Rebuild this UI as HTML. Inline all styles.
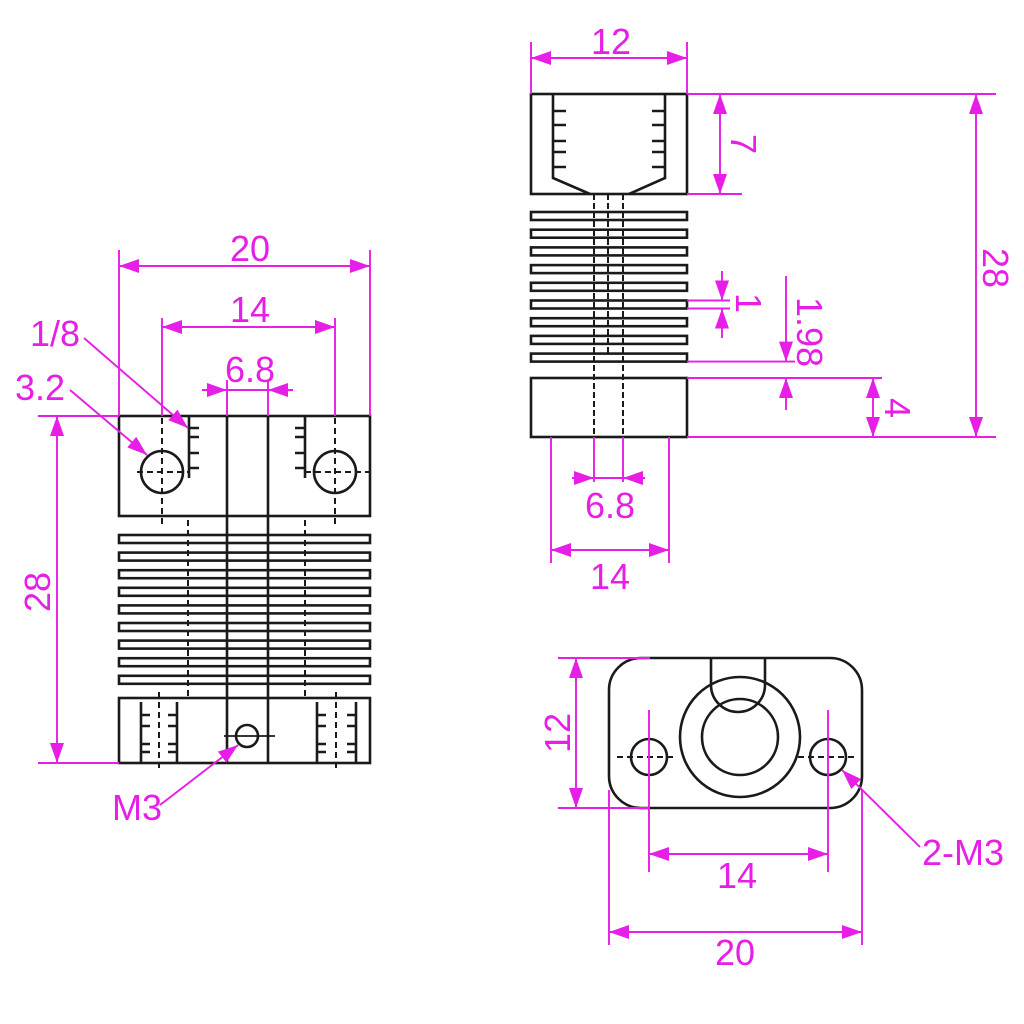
<!DOCTYPE html>
<html><head><meta charset="utf-8"><style>
html,body{margin:0;padding:0;background:#fff;}
svg{display:block;}
text{font-family:"Liberation Sans","DejaVu Sans",sans-serif;font-size:36px;fill:#e61ee6;}
</style></head><body>
<svg width="1024" height="1024" viewBox="0 0 1024 1024" xmlns="http://www.w3.org/2000/svg">
<defs>
<marker id="a" viewBox="0 0 20 14" refX="20" refY="7" markerWidth="20" markerHeight="14" markerUnits="userSpaceOnUse" orient="auto"><path d="M0,0 L20,7 L0,14 Z" fill="#e61ee6"/></marker>
</defs>
<g fill="none" stroke="#1a1a1a" stroke-width="2.6">
<rect x="119" y="416" width="251" height="100"/>
<line x1="227" y1="416" x2="227" y2="763"/>
<line x1="268" y1="416" x2="268" y2="763"/>
<circle cx="162" cy="472" r="21"/>
<circle cx="335" cy="472" r="21"/>
<g stroke-dasharray="6,4" stroke-width="2">
<line x1="162" y1="418" x2="162" y2="528"/><line x1="137" y1="472" x2="189" y2="472"/>
<line x1="335" y1="418" x2="335" y2="528"/><line x1="305" y1="472" x2="370" y2="472"/>
<line x1="188" y1="520" x2="188" y2="697"/><line x1="305" y1="520" x2="305" y2="697"/>
<line x1="159" y1="692" x2="159" y2="770"/><line x1="336" y1="692" x2="336" y2="770"/>
</g>
<line x1="189" y1="417" x2="189" y2="478"/>
<path d="M189 428h10M189 437h10M189 453h10M189 468h10"/>
<line x1="305" y1="417" x2="305" y2="478"/>
<path d="M305 428h-10M305 437h-10M305 453h-10M305 468h-10"/>
<rect x="119" y="535" width="251" height="8"/>
<rect x="119" y="552.6" width="251" height="8"/>
<rect x="119" y="570.2" width="251" height="8"/>
<rect x="119" y="587.8" width="251" height="8"/>
<rect x="119" y="605.4" width="251" height="8"/>
<rect x="119" y="623" width="251" height="8"/>
<rect x="119" y="640.6" width="251" height="8"/>
<rect x="119" y="658.2" width="251" height="8"/>
<rect x="119" y="675.8" width="251" height="8"/>
<rect x="119" y="698" width="251" height="65"/>
<line x1="141" y1="702" x2="141" y2="763"/><line x1="177" y1="702" x2="177" y2="763"/>
<path d="M141 715h9M141 726h9M141 744h9M141 752h9M177 715h-9M177 726h-9M177 744h-9M177 752h-9"/>
<line x1="317" y1="702" x2="317" y2="763"/><line x1="356" y1="702" x2="356" y2="763"/>
<path d="M317 715h9M317 726h9M317 744h9M317 752h9M356 715h-9M356 726h-9M356 744h-9M356 752h-9"/>
<circle cx="247" cy="736" r="11"/>
<line x1="224" y1="736" x2="275" y2="736" stroke-width="1.8"/>

<rect x="531" y="94" width="156" height="100"/>
<path d="M553 94 V178 L590 194 M665 94 V178 L629 194"/>
<path d="M553 111h13M553 125h13M553 141h13M553 152h13M553 167h13M665 111h-13M665 125h-13M665 141h-13M665 152h-13M665 167h-13"/>
<rect x="531" y="212" width="156" height="8"/>
<rect x="531" y="229.7" width="156" height="8"/>
<rect x="531" y="247.4" width="156" height="8"/>
<rect x="531" y="265.1" width="156" height="8"/>
<rect x="531" y="282.8" width="156" height="8"/>
<rect x="531" y="300.5" width="156" height="8"/>
<rect x="531" y="318.2" width="156" height="8"/>
<rect x="531" y="335.9" width="156" height="8"/>
<rect x="531" y="353.6" width="156" height="8"/>
<rect x="531" y="378" width="156" height="59"/>
<g stroke-dasharray="6,3" stroke-width="2">
<line x1="594" y1="194" x2="594" y2="437"/>
<line x1="608" y1="194" x2="608" y2="355"/>
<line x1="623" y1="194" x2="623" y2="437"/>
</g>

<rect x="609" y="658" width="253" height="150" rx="32"/>
<path d="M711 658 V685 A27 27 0 0 0 765 685 V658"/>
<circle cx="740" cy="737" r="60"/>
<circle cx="740" cy="737" r="38"/>
<circle cx="649" cy="757" r="18"/>
<circle cx="828" cy="757" r="18"/>
<g stroke-dasharray="6,4" stroke-width="2">
<line x1="617" y1="757" x2="675" y2="757"/>
<line x1="798" y1="757" x2="857" y2="757"/>
</g>
</g>

<g stroke="#e61ee6" stroke-width="1.9" fill="none">
<line x1="119" y1="250" x2="119" y2="416"/><line x1="370" y1="250" x2="370" y2="416"/>
<line x1="245" y1="266" x2="119" y2="266" marker-end="url(#a)"/><line x1="245" y1="266" x2="370" y2="266" marker-end="url(#a)"/>
<line x1="162" y1="318" x2="162" y2="416"/><line x1="335" y1="318" x2="335" y2="416"/>
<line x1="248" y1="327" x2="162" y2="327" marker-end="url(#a)"/><line x1="248" y1="327" x2="335" y2="327" marker-end="url(#a)"/>
<line x1="227" y1="380" x2="227" y2="416"/><line x1="268" y1="380" x2="268" y2="416"/>
<line x1="202" y1="390" x2="227" y2="390" marker-end="url(#a)"/><line x1="293" y1="390" x2="268" y2="390" marker-end="url(#a)"/>
<line x1="227" y1="390" x2="268" y2="390"/>
<line x1="38" y1="416" x2="119" y2="416"/><line x1="38" y1="763" x2="119" y2="763"/>
<line x1="57" y1="590" x2="57" y2="416" marker-end="url(#a)"/><line x1="57" y1="590" x2="57" y2="763" marker-end="url(#a)"/>
<line x1="84" y1="338" x2="188" y2="428" marker-end="url(#a)"/>
<line x1="70" y1="390" x2="147" y2="455" marker-end="url(#a)"/>
<line x1="160" y1="805" x2="238" y2="745" marker-end="url(#a)"/>

<line x1="531" y1="42" x2="531" y2="94"/><line x1="687" y1="42" x2="687" y2="94"/>
<line x1="609" y1="58" x2="531" y2="58" marker-end="url(#a)"/><line x1="609" y1="58" x2="687" y2="58" marker-end="url(#a)"/>
<line x1="687" y1="94" x2="996" y2="94"/><line x1="687" y1="194" x2="742" y2="194"/>
<line x1="720" y1="144" x2="720" y2="94" marker-end="url(#a)"/><line x1="720" y1="144" x2="720" y2="194" marker-end="url(#a)"/>
<line x1="687" y1="437" x2="996" y2="437"/>
<line x1="976" y1="265" x2="976" y2="94" marker-end="url(#a)"/><line x1="976" y1="265" x2="976" y2="437" marker-end="url(#a)"/>
<line x1="687" y1="300.5" x2="730" y2="300.5"/><line x1="687" y1="308.5" x2="730" y2="308.5"/>
<line x1="722" y1="271" x2="722" y2="300.5" marker-end="url(#a)"/><line x1="722" y1="338" x2="722" y2="308.5" marker-end="url(#a)"/>
<line x1="687" y1="361.6" x2="795" y2="361.6"/><line x1="687" y1="378" x2="882" y2="378"/>
<line x1="786" y1="276" x2="786" y2="361.6" marker-end="url(#a)"/><line x1="786" y1="410" x2="786" y2="378" marker-end="url(#a)"/>
<line x1="873" y1="407" x2="873" y2="378" marker-end="url(#a)"/><line x1="873" y1="407" x2="873" y2="437" marker-end="url(#a)"/>
<line x1="594" y1="437" x2="594" y2="482"/><line x1="623" y1="437" x2="623" y2="482"/>
<line x1="572" y1="478" x2="594" y2="478" marker-end="url(#a)"/><line x1="645" y1="478" x2="623" y2="478" marker-end="url(#a)"/>
<line x1="594" y1="478" x2="623" y2="478"/>
<line x1="551" y1="437" x2="551" y2="563"/><line x1="669" y1="437" x2="669" y2="563"/>
<line x1="610" y1="550" x2="551" y2="550" marker-end="url(#a)"/><line x1="610" y1="550" x2="669" y2="550" marker-end="url(#a)"/>

<line x1="558" y1="658" x2="650" y2="658"/><line x1="558" y1="808" x2="650" y2="808"/>
<line x1="576" y1="733" x2="576" y2="658" marker-end="url(#a)"/><line x1="576" y1="733" x2="576" y2="808" marker-end="url(#a)"/>
<line x1="649" y1="710" x2="649" y2="872"/><line x1="828" y1="710" x2="828" y2="872"/>
<line x1="738" y1="854" x2="649" y2="854" marker-end="url(#a)"/><line x1="738" y1="854" x2="828" y2="854" marker-end="url(#a)"/>
<line x1="609" y1="790" x2="609" y2="945"/><line x1="862" y1="790" x2="862" y2="945"/>
<line x1="735" y1="932" x2="609" y2="932" marker-end="url(#a)"/><line x1="735" y1="932" x2="862" y2="932" marker-end="url(#a)"/>
<line x1="920" y1="847" x2="842" y2="770" marker-end="url(#a)"/>
</g>

<g>
<text x="250" y="261" text-anchor="middle">20</text>
<text x="250" y="322" text-anchor="middle">14</text>
<text x="250" y="382" text-anchor="middle">6.8</text>
<text x="55" y="346" text-anchor="middle">1/8</text>
<text x="40" y="400" text-anchor="middle">3.2</text>
<text x="137" y="820" text-anchor="middle">M3</text>
<text transform="translate(50,592) rotate(-90)" text-anchor="middle">28</text>

<text x="611" y="54" text-anchor="middle">12</text>
<text transform="translate(731,144) rotate(90)" text-anchor="middle">7</text>
<text transform="translate(983,268) rotate(90)" text-anchor="middle">28</text>
<text transform="translate(736,303) rotate(90)" text-anchor="middle">1</text>
<text transform="translate(797,332) rotate(90)" text-anchor="middle">1.98</text>
<text transform="translate(885,408) rotate(90)" text-anchor="middle">4</text>
<text x="610" y="518" text-anchor="middle">6.8</text>
<text x="610" y="589" text-anchor="middle">14</text>

<text transform="translate(570,733) rotate(-90)" text-anchor="middle">12</text>
<text x="737" y="888" text-anchor="middle">14</text>
<text x="735" y="965" text-anchor="middle">20</text>
<text x="963" y="865" text-anchor="middle">2-M3</text>
</g>
</svg>
</body></html>
